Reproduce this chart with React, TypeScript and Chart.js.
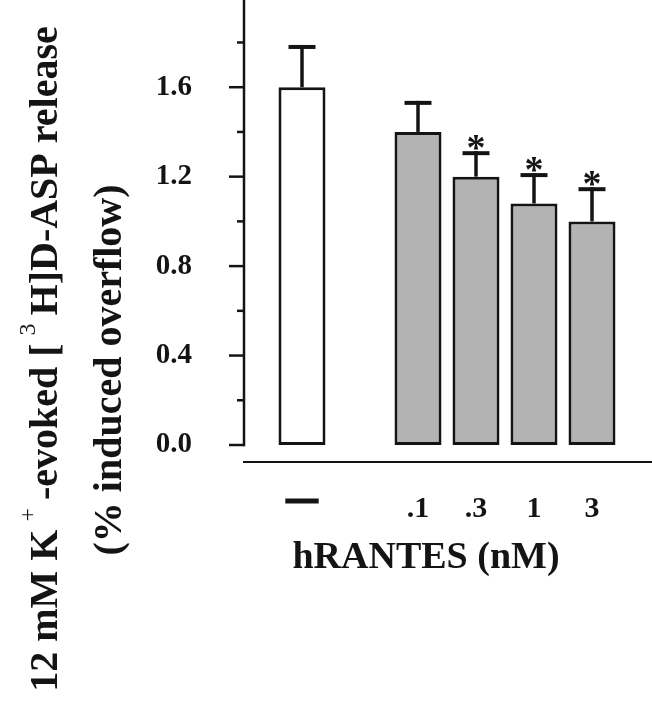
import { useEffect, useRef } from "react";
import { Chart, registerables } from "chart.js";

Chart.register(...registerables);

// ---- data ----
const categories = ["", "—", "", ".1", ".3", "1", "3", ""];
const means = [null, 1.6, null, 1.4, 1.2, 1.08, 1.0, null];
const errorTops = [null, 1.78, null, 1.53, 1.305, 1.207, 1.144, null];
const significant = [false, false, false, false, true, true, true, false];
const barFills = ["#ffffff", "#ffffff", "#ffffff", "#b3b3b3", "#b3b3b3", "#b3b3b3", "#b3b3b3", "#b3b3b3"];
const yMajorTicks = [0, 0.4, 0.8, 1.2, 1.6];
const yMinorTicks = [0.2, 0.6, 1.0, 1.4, 1.8];
const yAxisMax = 1.99;
const xTitle = "hRANTES (nM)";
const yTitleLine1 = [
  { text: "12 mM K", sup: false },
  { text: "+", sup: true },
  { text: "-evoked [", sup: false },
  { text: "3", sup: true },
  { text: "H]D-ASP release", sup: false },
];
const yTitleLine2 = "(% induced overflow)";

const SERIF = '"Liberation Serif", "Times New Roman", serif';
const INK = "#141414";

export default function App() {
  const ref = useRef<HTMLCanvasElement>(null);

  useEffect(() => {
    const canvas = ref.current!;

    const line = (ctx: CanvasRenderingContext2D, x1: number, y1: number, x2: number, y2: number) => {
      ctx.beginPath();
      ctx.moveTo(x1, y1);
      ctx.lineTo(x2, y2);
      ctx.stroke();
    };

    const custom = {
      id: "customDecor",
      afterDatasetsDraw(chart: any) {
        const ctx: CanvasRenderingContext2D = chart.ctx;
        const xs = chart.scales.x;
        const ys = chart.scales.y;
        const area = chart.chartArea;
        ctx.save();
        ctx.strokeStyle = INK;
        ctx.fillStyle = INK;
        ctx.lineCap = "butt";

        // error bars + significance stars
        means.forEach((m, i) => {
          if (m == null) return;
          const e = errorTops[i] as number;
          const x = xs.getPixelForValue(i);
          const y0 = ys.getPixelForValue(m);
          const y1 = ys.getPixelForValue(e);
          ctx.lineWidth = 3.5;
          line(ctx, x, y0, x, y1 - 2);
          ctx.lineWidth = 4;
          line(ctx, x - 13.5, y1, x + 13.5, y1);
          if (significant[i]) {
            ctx.font = `bold 38px ${SERIF}`;
            ctx.textAlign = "center";
            ctx.textBaseline = "alphabetic";
            const mt = ctx.measureText("*");
            const desc = mt.actualBoundingBoxDescent;
            ctx.fillText("*", x, y1 - 3 - desc);
          }
        });

        // y axis line
        const xl = area.left;
        ctx.lineWidth = 2.5;
        line(ctx, xl, ys.getPixelForValue(yAxisMax), xl, ys.getPixelForValue(0) + 1.25);
        yMajorTicks.forEach((v) => line(ctx, xl - 15, ys.getPixelForValue(v), xl, ys.getPixelForValue(v)));
        yMinorTicks.forEach((v) => line(ctx, xl - 7, ys.getPixelForValue(v), xl, ys.getPixelForValue(v)));

        // x axis line (detached below the plot)
        ctx.lineWidth = 2;
        const yb = area.bottom + 17;
        line(ctx, xl - 1, yb, chart.width, yb);
        ctx.restore();
      },
      afterDraw(chart: any) {
        const ctx: CanvasRenderingContext2D = chart.ctx;
        const area = chart.chartArea;
        ctx.save();
        ctx.fillStyle = INK;

        // x title
        ctx.font = `bold 38px ${SERIF}`;
        ctx.textAlign = "center";
        ctx.textBaseline = "middle";
        ctx.fillText(xTitle, area.left + 182, area.bottom + 113);

        // y title (rotated)
        const fs = 40;
        const supFs = 24;
        const gap = 8;
        const mainFont = `bold ${fs}px ${SERIF}`;
        const supFont = `${supFs}px ${SERIF}`;
        let total = 0;
        yTitleLine1.forEach((seg) => {
          ctx.font = seg.sup ? supFont : mainFont;
          total += ctx.measureText(seg.text).width + (seg.sup ? 2 * gap : 0);
        });
        ctx.save();
        ctx.translate(57, 359 + total / 2);
        ctx.rotate(-Math.PI / 2);
        ctx.textAlign = "left";
        ctx.textBaseline = "alphabetic";
        let u = 0;
        yTitleLine1.forEach((seg) => {
          if (seg.sup) {
            ctx.font = supFont;
            u += gap;
            ctx.fillText(seg.text, u, -fs * 0.55);
            u += ctx.measureText(seg.text).width + gap;
          } else {
            ctx.font = mainFont;
            ctx.fillText(seg.text, u, 0);
            u += ctx.measureText(seg.text).width;
          }
        });
        ctx.restore();

        ctx.save();
        ctx.translate(121, 370);
        ctx.rotate(-Math.PI / 2);
        ctx.font = mainFont;
        ctx.textAlign = "center";
        ctx.textBaseline = "alphabetic";
        ctx.fillText(yTitleLine2, 0, 0);
        ctx.restore();

        ctx.restore();
      },
    };

    const chart = new Chart(canvas, {
      type: "bar",
      data: {
        labels: categories,
        datasets: [
          {
            data: means as any,
            backgroundColor: barFills,
            borderColor: INK,
            borderWidth: 3,
            borderSkipped: false,
            barPercentage: 0.81,
            categoryPercentage: 1,
          },
        ],
      },
      options: {
        responsive: false,
        animation: false,
        devicePixelRatio: 1,
        layout: { autoPadding: false, padding: { left: 0, right: 2, top: 0, bottom: 0 } },
        plugins: { legend: { display: false }, tooltip: { enabled: false }, title: { display: false } },
        scales: {
          x: {
            type: "category",
            offset: false,
            grid: { display: false },
            border: { display: false },
            ticks: {
              autoSkip: false,
              maxRotation: 0,
              minRotation: 0,
              padding: 38,
              color: INK,
              textStrokeColor: INK,
              textStrokeWidth: (c: any) => (c.index === 1 ? 3 : 0),
              font: (c: any) =>
                c.index === 1
                  ? { family: SERIF, size: 30, weight: "bold", lineHeight: 0.6 }
                  : { family: SERIF, size: 30, weight: "bold", lineHeight: 1.2 },
            } as any,
            afterFit: (s: any) => {
              s.height = 275;
              s.paddingLeft = 0;
              s.paddingRight = 0;
            },
          },
          y: {
            min: 0,
            max: yAxisMax,
            grid: { display: false },
            border: { display: false },
            ticks: {
              stepSize: 0.2,
              padding: 44,
              color: INK,
              font: { family: SERIF, size: 29, weight: "bold" },
              callback: (v: any) => {
                const n = Number(v);
                const r = n / 0.4;
                return Math.abs(r - Math.round(r)) < 1e-6 ? n.toFixed(1) : "";
              },
            },
            afterFit: (s: any) => {
              s.width = 244;
              s.paddingTop = 0;
              s.paddingBottom = 0;
            },
          },
        },
      },
      plugins: [custom],
    });
    return () => chart.destroy();
  }, []);

  return (
    <div style={{ position: "absolute", left: 0, top: 0, width: 652, height: 720, background: "#fff" }}>
      <canvas ref={ref} width={652} height={720} style={{ display: "block", width: 652, height: 720 }} />
    </div>
  );
}
